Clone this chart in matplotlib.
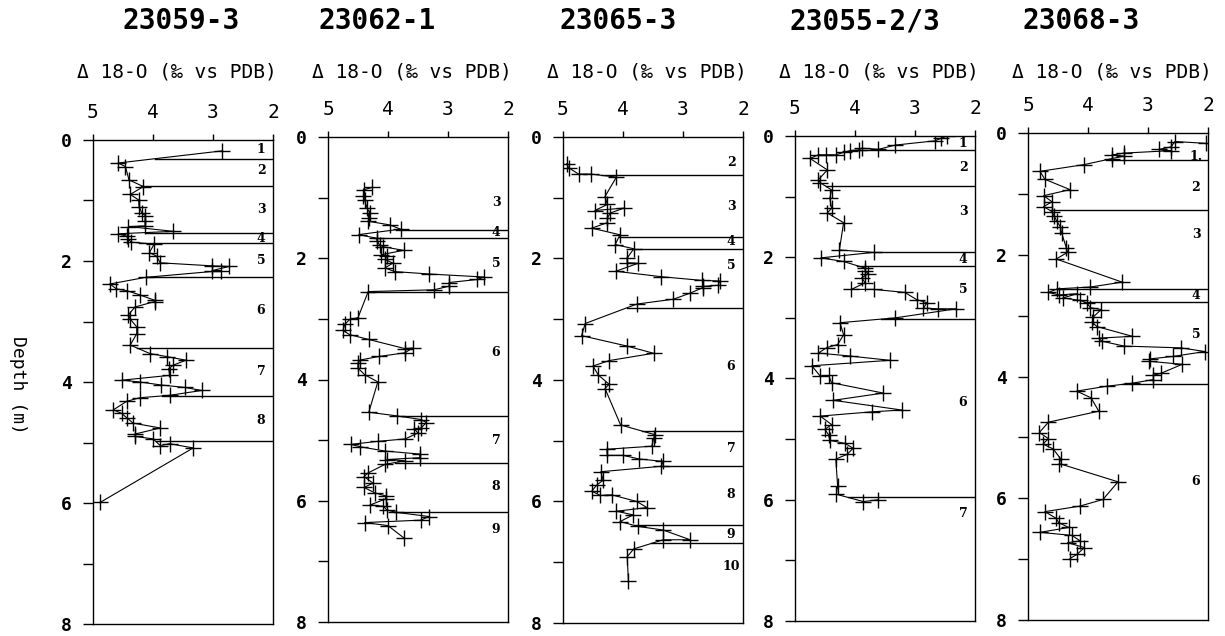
import matplotlib
matplotlib.use("Agg")
import matplotlib.pyplot as plt
import numpy as np

# ---------------- data ----------------
cores = ["23059-3", "23062-1", "23065-3", "23055-2/3", "23068-3"]

depth_23059 = [0.18, 0.38, 0.44, 0.66, 0.77, 0.90, 0.99, 1.10, 1.20, 1.25, 1.34, 1.42, 1.43, 1.51, 1.55,
               1.59, 1.64, 1.69, 1.72, 1.86, 1.92, 2.03, 2.08, 2.09, 2.16, 2.16, 2.27, 2.38, 2.46, 2.49,
               2.56, 2.65, 2.67, 2.76, 2.89, 2.96, 3.09, 3.20, 3.39, 3.53, 3.58, 3.64, 3.72, 3.78, 3.89,
               3.97, 4.00, 4.05, 4.09, 4.14, 4.22, 4.26, 4.32, 4.46, 4.52, 4.59, 4.68, 4.76, 4.86, 4.90,
               4.94, 5.05, 5.02, 5.09, 5.99]
d18o_23059 = [2.85, 4.58, 4.46, 4.40, 4.16, 4.38, 4.24, 4.23, 4.19, 4.13, 4.13, 4.13, 4.41, 3.66, 4.58,
              4.44, 4.41, 4.36, 3.98, 4.06, 3.94, 3.88, 3.02, 2.73, 3.02, 2.86, 4.12, 4.72, 4.61, 4.44,
              4.22, 3.97, 3.97, 4.30, 4.41, 4.38, 4.27, 4.27, 4.38, 4.05, 3.77, 3.45, 3.66, 3.74, 3.72,
              4.52, 4.22, 3.86, 3.47, 3.19, 3.72, 4.22, 4.44, 4.66, 4.52, 4.44, 4.33, 3.88, 4.30, 4.30,
              4.00, 3.88, 3.72, 3.33, 4.88]
bounds_23059 = [0.31, 0.755, 1.53, 1.70, 2.27, 3.44, 4.23, 4.98]
zone_depth_23059 = [0.15, 0.51, 1.15, 1.63, 2.00, 2.82, 3.83, 4.63]
zone_label_23059 = ["1", "2", "3", "4", "5", "6", "7", "8"]

depth_23062 = [0.83, 0.87, 0.97, 1.04, 1.17, 1.26, 1.34, 1.39, 1.45, 1.52, 1.61, 1.67, 1.72, 1.78, 1.81,
               1.87, 1.94, 1.97, 2.02, 2.08, 2.16, 2.22, 2.26, 2.31, 2.35, 2.40, 2.46, 2.52, 2.55, 2.98,
               3.01, 3.09, 3.19, 3.26, 3.34, 3.49, 3.48, 3.56, 3.62, 3.68, 3.73, 3.81, 3.92, 4.04, 4.54,
               4.60, 4.66, 4.71, 4.80, 4.82, 4.88, 4.98, 5.02, 5.07, 5.11, 5.18, 5.23, 5.29, 5.32, 5.34,
               5.40, 5.54, 5.60, 5.71, 5.78, 5.87, 5.92, 5.97, 6.07, 6.09, 6.15, 6.19, 6.26, 6.32, 6.36,
               6.41, 6.61]
d18o_23062 = [4.26, 4.40, 4.41, 4.39, 4.35, 4.30, 4.32, 4.33, 3.97, 3.79, 4.49, 4.19, 4.18, 4.14, 4.08,
              3.74, 4.11, 4.02, 4.05, 3.92, 4.05, 3.89, 3.31, 2.40, 2.51, 2.98, 2.98, 3.23, 4.33, 4.50,
              4.64, 4.72, 4.75, 4.64, 4.32, 3.72, 3.59, 3.72, 4.15, 4.47, 4.50, 4.50, 4.39, 4.17, 4.32,
              3.85, 3.45, 3.36, 3.45, 3.56, 3.50, 3.71, 4.17, 4.62, 4.46, 4.05, 3.47, 3.47, 4.02, 3.72,
              4.05, 4.33, 4.40, 4.25, 4.40, 4.22, 4.04, 4.04, 4.30, 4.08, 4.02, 3.87, 3.32, 3.45, 4.39,
              4.00, 3.74]
bounds_23062 = [1.53, 1.66, 2.55, 4.61, 5.37, 6.18]
zone_depth_23062 = [1.08, 1.57, 2.08, 3.56, 5.00, 5.77, 6.47]
zone_label_23062 = ["3", "4", "5", "6", "7", "8", "9"]

depth_23065 = [0.44, 0.51, 0.61, 0.61, 0.66, 0.98, 1.11, 1.21, 1.17, 1.25, 1.33, 1.41, 1.50, 1.61, 1.77,
               1.84, 1.99, 2.07, 2.08, 2.21, 2.30, 2.36, 2.37, 2.44, 2.46, 2.48, 2.57, 2.67, 2.75, 3.07,
               3.27, 3.44, 3.56, 3.68, 3.77, 3.92, 4.07, 4.14, 4.74, 4.90, 4.96, 5.09, 5.14, 5.24, 5.24,
               5.30, 5.34, 5.42, 5.51, 5.65, 5.73, 5.83, 5.90, 5.89, 6.00, 6.10, 6.16, 6.22, 6.33, 6.41,
               6.47, 6.63, 6.63, 6.78, 6.91, 7.31]
d18o_23065 = [4.94, 4.90, 4.74, 4.54, 4.11, 4.30, 4.26, 4.47, 3.98, 4.21, 4.26, 4.26, 4.52, 4.05, 4.13,
              3.82, 3.93, 3.93, 3.75, 4.12, 3.36, 2.69, 2.39, 2.41, 2.67, 2.67, 2.88, 3.16, 3.77, 4.63,
              4.69, 3.94, 3.49, 4.23, 4.50, 4.41, 4.23, 4.30, 4.04, 3.47, 3.49, 3.52, 4.27, 4.26, 4.00,
              3.73, 3.33, 3.36, 4.37, 4.33, 4.44, 4.52, 4.38, 4.19, 3.77, 3.60, 4.11, 3.83, 4.05, 3.75,
              3.33, 2.88, 3.33, 3.82, 3.93, 3.91]
bounds_23065 = [0.63, 1.65, 1.84, 2.81, 4.84, 5.42, 6.39, 6.69]
zone_depth_23065 = [0.42, 1.15, 1.72, 2.11, 3.77, 5.13, 5.89, 6.55, 7.07]
zone_label_23065 = ["2", "3", "4", "5", "6", "7", "8", "9", "10"]

depth_23055 = [0.00, 0.04, 0.08, 0.15, 0.22, 0.20, 0.23, 0.24, 0.27, 0.31, 0.31, 0.31, 0.37, 0.56, 0.72,
               0.77, 0.89, 1.03, 1.19, 1.27, 1.43, 1.88, 1.92, 2.01, 2.07, 2.18, 2.23, 2.27, 2.34, 2.42,
               2.53, 2.53, 2.58, 2.70, 2.75, 2.84, 2.85, 2.85, 3.00, 3.08, 3.28, 3.44, 3.49, 3.58, 3.63,
               3.70, 3.79, 3.96, 3.95, 4.07, 4.24, 4.36, 4.52, 4.55, 4.62, 4.76, 4.84, 4.93, 5.02, 5.07,
               5.15, 5.25, 5.33, 5.77, 5.91, 6.03, 6.00]
d18o_23055 = [2.47, 2.57, 2.67, 3.33, 3.61, 3.89, 3.94, 4.08, 4.19, 4.32, 4.48, 4.61, 4.75, 4.46, 4.61,
              4.58, 4.39, 4.42, 4.39, 4.46, 4.19, 4.26, 3.69, 4.57, 4.19, 3.83, 3.83, 3.78, 3.89, 3.83,
              4.06, 3.69, 3.17, 2.97, 2.80, 2.86, 2.61, 2.31, 3.33, 4.25, 4.19, 4.29, 4.47, 4.61, 4.08,
              3.42, 4.72, 4.58, 4.44, 4.39, 3.53, 4.36, 3.22, 3.72, 4.58, 4.39, 4.50, 4.44, 4.42, 4.17,
              4.03, 4.13, 4.32, 4.29, 4.31, 3.86, 3.61]
bounds_23055 = [0.23, 0.83, 1.92, 2.14, 3.02, 5.96]
zone_depth_23055 = [0.12, 0.52, 1.25, 2.04, 2.53, 4.40, 6.22]
zone_label_23055 = ["1", "2", "3", "4", "5", "6", "7"]

depth_23068 = [0.17, 0.14, 0.23, 0.27, 0.29, 0.33, 0.36, 0.38, 0.42, 0.52, 0.63, 0.76, 0.93, 1.03, 1.13,
               1.21, 1.29, 1.37, 1.45, 1.54, 1.64, 1.89, 1.96, 2.07, 2.45, 2.53, 2.56, 2.62, 2.66, 2.64,
               2.71, 2.75, 2.79, 2.87, 2.90, 3.02, 3.11, 3.18, 3.34, 3.37, 3.42, 3.50, 3.53, 3.59, 3.67,
               3.71, 3.75, 3.80, 3.95, 3.98, 4.05, 4.11, 4.16, 4.24, 4.35, 4.57, 4.75, 4.92, 5.02, 5.11,
               5.19, 5.36, 5.43, 5.73, 6.02, 6.13, 6.22, 6.33, 6.40, 6.48, 6.56, 6.61, 6.70, 6.73, 6.81,
               6.92, 6.99]
d18o_23068 = [2.03, 2.55, 2.62, 2.82, 2.62, 3.40, 3.60, 3.40, 3.60, 4.07, 4.80, 4.72, 4.30, 4.74, 4.60,
              4.74, 4.60, 4.56, 4.52, 4.46, 4.44, 4.36, 4.34, 4.53, 3.43, 3.96, 4.51, 4.66, 4.48, 4.18,
              4.42, 4.13, 4.02, 3.96, 3.78, 3.91, 3.93, 3.85, 3.26, 3.82, 3.77, 3.40, 2.45, 2.05, 2.58,
              2.96, 2.98, 2.43, 2.79, 2.91, 2.91, 3.26, 3.69, 4.19, 3.95, 3.82, 4.66, 4.81, 4.66, 4.75,
              4.58, 4.45, 4.48, 3.50, 3.75, 4.14, 4.72, 4.53, 4.49, 4.32, 4.80, 4.27, 4.13, 4.34, 4.06,
              4.18, 4.30]
bounds_23068 = [0.44, 1.27, 2.56, 2.77, 4.13]
zone_depth_23068 = [0.39, 0.89, 1.67, 2.67, 3.31, 5.73]
zone_label_23068 = ["1.", "2", "3", "4", "5", "6"]

x_ticks = [5, 4, 3, 2]
y_major = [0, 2, 4, 6, 8]
y_minor = [1, 3, 5, 7]
subtitle = "Δ 18-O (‰ vs PDB)"

series = [
    (depth_23059, d18o_23059, bounds_23059, zone_depth_23059, zone_label_23059),
    (depth_23062, d18o_23062, bounds_23062, zone_depth_23062, zone_label_23062),
    (depth_23065, d18o_23065, bounds_23065, zone_depth_23065, zone_label_23065),
    (depth_23055, d18o_23055, bounds_23055, zone_depth_23055, zone_label_23055),
    (depth_23068, d18o_23068, bounds_23068, zone_depth_23068, zone_label_23068),
]

# ---------------- layout (pixels) ----------------
W, H = 1225, 636
ax_left = [93, 328, 563, 795, 1028]
ax_top = [140, 137, 137, 136, 133]
ax_bot = [624, 622, 623, 621, 620]
ax_w = 180
title_x = [181, 377, 618, 865, 1081]

mono = "DejaVu Sans Mono"

fig = plt.figure(figsize=(W / 100, H / 100), dpi=100)


def crossing(d, v, b):
    d = np.asarray(d); v = np.asarray(v)
    for i in range(len(d) - 1):
        d0, d1 = d[i], d[i + 1]
        if (d0 - b) * (d1 - b) <= 0 and d0 != d1:
            t = (b - d0) / (d1 - d0)
            return v[i] + t * (v[i + 1] - v[i])
    return v[np.argmin(np.abs(d - b))]


for k, (dep, val, bnds, zd, zl) in enumerate(series):
    l = ax_left[k] / W
    b = 1 - ax_bot[k] / H
    h = (ax_bot[k] - ax_top[k]) / H
    ax = fig.add_axes([l, b, ax_w / W, h])
    ax.plot(val, dep, color="black", lw=0.8, marker="+", ms=11, mew=1.0)
    for bd in bnds:
        x0 = crossing(dep, val, bd)
        ax.plot([x0, 2], [bd, bd], color="black", lw=1.0)
    for zdd, lab in zip(zd, zl):
        ax.text(2.2, zdd, lab, ha="center", va="center", fontsize=9,
                fontweight="bold", family="DejaVu Serif")
    ax.set_xlim(5, 2)
    ax.set_ylim(8, 0)
    ax.xaxis.tick_top()
    ax.set_xticks(x_ticks)
    ax.set_xticklabels([str(t) for t in x_ticks], family=mono, fontsize=14)
    ax.set_yticks(y_major)
    ax.set_yticklabels([str(t) for t in y_major], family=mono, fontsize=13, fontweight="bold")
    ax.set_yticks(y_minor, minor=True)
    ax.tick_params(axis="x", which="both", direction="out", length=4, pad=9, width=1)
    ax.tick_params(axis="y", which="both", direction="out", length=7, pad=8, width=1)
    for s in ax.spines.values():
        s.set_linewidth(1.0)
    fig.text(title_x[k] / W, 1 - 21 / H, cores[k], ha="center", va="center",
             fontsize=20, fontweight="bold", family=mono)
    fig.text((ax_left[k] + 84) / W, 1 - 72 / H, subtitle, ha="center", va="center",
             fontsize=14, family=mono)

fig.text(18 / W, 1 - 385 / H, "Depth (m)", rotation=-90, ha="center", va="center",
         fontsize=13, family=mono)

fig.savefig("out.png", dpi=100)
